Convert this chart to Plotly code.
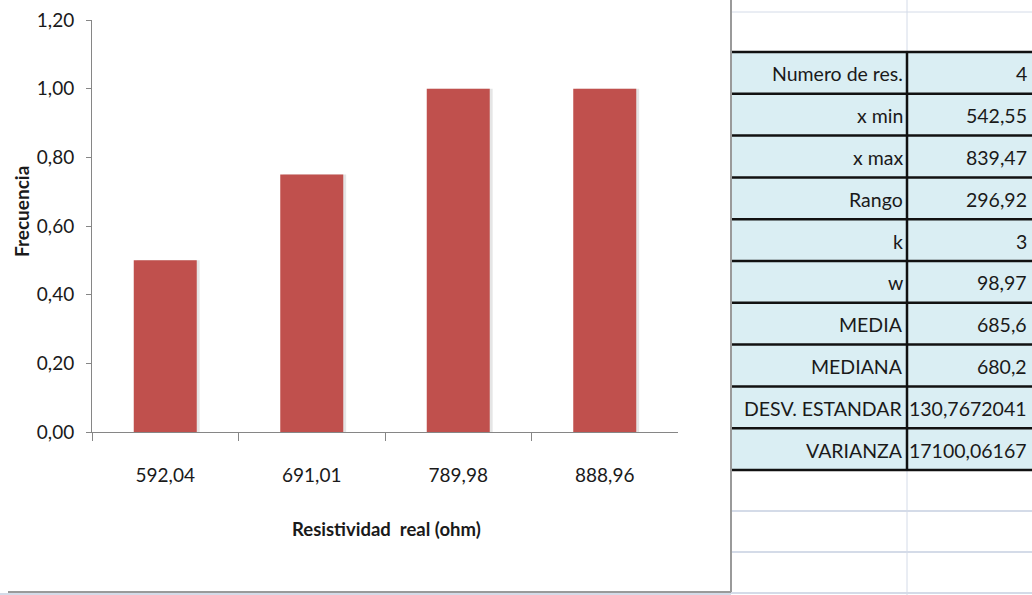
import plotly.graph_objects as go

# Frequency chart data
categories = ["592,04", "691,01", "789,98", "888,96"]
frecuencia = [0.50, 0.75, 1.00, 1.00]

# Summary statistics shown beside the chart
stat_labels = ["Numero de res.", "x min", "x max", "Rango", "k", "w",
               "MEDIA", "MEDIANA", "DESV. ESTANDAR", "VARIANZA"]
stat_values = ["4", "542,55", "839,47", "296,92", "3", "98,97",
               "685,6", "680,2", "130,7672041", "17100,06167"]

W, H = 1032, 595
FONT = "Lato, sans-serif"
TEXT = "#1a1a1a"
BAR = "#C0504D"


def px(x):
    return x / W


def py(y):
    return 1 - y / H


fig = go.Figure()

# soft drop shadow behind each bar
fig.add_trace(go.Bar(
    x=categories, y=frecuencia, width=0.43, offset=-0.195,
    marker=dict(color="rgba(0,0,0,0.10)", line=dict(width=0)),
    hoverinfo="skip", showlegend=False,
))
fig.add_trace(go.Bar(
    x=categories, y=frecuencia, width=0.43, offset=-0.215,
    marker=dict(color=BAR, line=dict(width=0)),
    showlegend=False,
))

fig.update_layout(
    width=W, height=H,
    margin=dict(l=0, r=0, t=0, b=0, autoexpand=False),
    paper_bgcolor="white", plot_bgcolor="white",
    barmode="overlay",
    separators=",.",
    font=dict(family=FONT, size=19, color=TEXT),
    xaxis=dict(
        domain=[px(92), px(678)],
        type="category",
        showline=True, linecolor="#868686", linewidth=1,
        ticks="outside", ticklen=8, tickcolor="#868686", tickson="boundaries",
        showgrid=False, zeroline=False, automargin=False,
        tickfont=dict(family=FONT, size=19, color=TEXT),
        ticklabelstandoff=26,
        anchor="y",
    ),
    yaxis=dict(
        domain=[py(432), py(20)],
        range=[0, 1.2],
        tickvals=[0, 0.2, 0.4, 0.6, 0.8, 1.0, 1.2],
        tickformat=".2f",
        showline=True, linecolor="#868686", linewidth=1,
        ticks="outside", ticklen=5, tickcolor="#868686",
        showgrid=False, zeroline=False, automargin=False,
        tickfont=dict(family=FONT, size=19, color=TEXT),
        ticklabelstandoff=8,
        anchor="x",
    ),
)

annotations = [
    dict(text="<b>Resistividad  real (ohm)</b>", x=px(386), y=py(529),
         xanchor="center", yanchor="middle",
         xref="paper", yref="paper", showarrow=False,
         font=dict(family=FONT, size=18.5, color=TEXT)),
    dict(text="<b>Frecuencia</b>", x=px(21), y=py(212), textangle=-90,
         xanchor="center", yanchor="middle",
         xref="paper", yref="paper", showarrow=False,
         font=dict(family=FONT, size=19, color=TEXT)),
]

shapes = []


def line(x0, y0, x1, y1, color, width):
    shapes.append(dict(type="line", xref="paper", yref="paper",
                       x0=px(x0), y0=py(y0), x1=px(x1), y1=py(y1),
                       line=dict(color=color, width=width)))


GRID = "#D4DBE8"
C0, C1, C2 = 731, 907, 1034

# spreadsheet gridlines around the table
line(C0, 12, C2, 12, GRID, 1)
line(C1, 0, C1, 52, GRID, 1)
row_top, row_h = 52, 41.8
n = len(stat_labels)
table_bottom = row_top + n * row_h
for k in range(1, 4):
    yy = table_bottom + k * 41
    line(C0, yy, C2, yy, GRID, 2)
line(C1, table_bottom, C1, H, GRID, 1)
# cells peeking out below the chart
line(0, 594, C0, 594, GRID, 2)
for xx in [126, 247, 368, 489, 610]:
    line(xx, 592, xx, H, GRID, 1)

# statistics table cells
for i, (lab, val) in enumerate(zip(stat_labels, stat_values)):
    y0 = row_top + i * row_h
    y1 = y0 + row_h
    shapes.append(dict(type="rect", xref="paper", yref="paper",
                       x0=px(C0), x1=px(C2), y0=py(y0), y1=py(y1),
                       fillcolor="#DAEEF3", line=dict(width=0), layer="below"))
    yc = (y0 + y1) / 2 + 1
    annotations.append(dict(text=lab, x=px(C1 - 2), y=py(yc), xanchor="right",
                            yanchor="middle", xref="paper", yref="paper",
                            showarrow=False,
                            font=dict(family=FONT, size=19.5, color=TEXT)))
    annotations.append(dict(text=val, x=px(W - 3), y=py(yc), xanchor="right",
                            yanchor="middle", xref="paper", yref="paper",
                            showarrow=False,
                            font=dict(family=FONT, size=19.5, color=TEXT)))

for i in range(n + 1):
    yy = row_top + i * row_h
    line(C0, yy, C2, yy, "#111111", 2.5)
line(C1, row_top, C1, table_bottom, "#111111", 2.5)

# chart frame edges
line(C0, 0, C0, 592, "#9a9a9a", 2)
line(8, 592, C0, 592, "#9a9a9a", 2)

fig.update_layout(annotations=annotations, shapes=shapes)

fig.write_html("out.html")
